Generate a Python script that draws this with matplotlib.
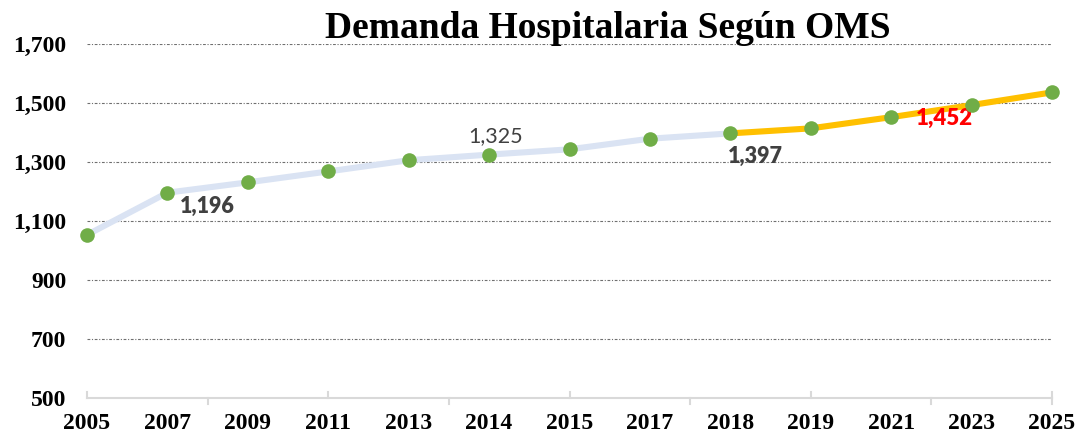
import matplotlib
matplotlib.use("Agg")
import matplotlib.pyplot as plt

years = ["2005", "2007", "2009", "2011", "2013", "2014", "2015",
         "2017", "2018", "2019", "2021", "2023", "2025"]
values = [1053, 1196, 1231, 1268, 1306, 1325, 1343,
          1379, 1397, 1414, 1452, 1493, 1536]
split_index = 8  # 2018: blue history ends, orange projection begins
y_ticks = [500, 700, 900, 1100, 1300, 1500, 1700]
title = "Demanda Hospitalaria Según OMS"

BLUE = "#dae3f3"
ORANGE = "#ffc000"
GREEN = "#70ad47"
GRAY_TXT = "#404040"

fig = plt.figure(figsize=(10.81, 4.38), dpi=100)
ax = fig.add_axes([87/1081, 40/438, 965/1081, 354/438])

x = list(range(len(years)))

ax.plot(x[:split_index+1], values[:split_index+1], color=BLUE, lw=4.4,
        solid_capstyle="round", zorder=2, clip_on=False)
ax.plot(x[split_index:], values[split_index:], color=ORANGE, lw=4.4,
        solid_capstyle="round", zorder=3, clip_on=False)
ax.plot(x, values, linestyle="none", marker="o", markersize=10.5,
        color=GREEN, markeredgewidth=0, zorder=4, clip_on=False)

ax.set_xlim(0, len(years) - 1)
ax.set_ylim(y_ticks[0], y_ticks[-1])
ax.set_yticks(y_ticks)
ax.set_yticklabels([f"{v:,}" for v in y_ticks])
ax.set_xticks(x)
ax.set_xticklabels(years)

ax.grid(axis="y", color="#6f6f6f", linestyle=(0, (2.5, 1.5, 1, 1.5)), lw=0.8)
ax.set_axisbelow(True)

for s in ["top", "right", "left"]:
    ax.spines[s].set_visible(False)
ax.spines["bottom"].set_color("#d9d9d9")
ax.spines["bottom"].set_linewidth(1.5)

serif = "Liberation Serif"
ax.tick_params(axis="y", length=0, pad=15, labelsize=17)
ax.tick_params(axis="x", length=0, pad=11, labelsize=17)
for lab in ax.get_xticklabels() + ax.get_yticklabels():
    lab.set_fontfamily(serif)
    lab.set_fontweight("bold")

# axis tick marks (Excel style: alternating up / down)
xt = ax.get_xaxis_transform()
tl = 6 / 354
for p in [0, 3, 6, 9, 12]:
    ax.plot([p, p], [0, tl], color="#d9d9d9", lw=1.5, transform=xt, clip_on=False)
for p in [1.5, 4.5, 7.5, 10.5, 12]:
    ax.plot([p, p], [0, -tl], color="#d9d9d9", lw=1.5, transform=xt, clip_on=False)

# data labels
lbl = "Lato"
ax.annotate("1,196", (1, values[1]), xytext=(40, -14), textcoords="offset pixels",
            ha="center", va="center", fontsize=15.5, fontweight="heavy",
            color=GRAY_TXT, fontfamily=lbl)
ax.annotate("1,325", (5, values[5]), xytext=(7, 19), textcoords="offset pixels",
            ha="center", va="center", fontsize=15.5, color=GRAY_TXT, fontfamily=lbl)
ax.annotate("1,397", (8, values[8]), xytext=(25, -23), textcoords="offset pixels",
            ha="center", va="center", fontsize=15.5, fontweight="heavy",
            color=GRAY_TXT, fontfamily=lbl)
ax.annotate("1,452", (10, values[10]), xytext=(53, -1), textcoords="offset pixels",
            ha="center", va="center", fontsize=16, fontweight="heavy",
            color="#ff0000", fontfamily=lbl)

fig.text(608/1081, 1 - 28/438, title, ha="center", va="center",
         fontsize=27, fontweight="bold", fontfamily=serif)

fig.savefig("out.png", dpi=100)
